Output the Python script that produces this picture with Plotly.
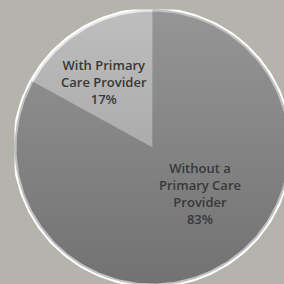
import plotly.graph_objects as go
import numpy as np

labels = ["With Primary<br>Care Provider", "Without a<br>Primary Care<br>Provider"]
values = [17, 83]
slice_colors = ["rgba(210,210,210,0.5)", "rgba(130,130,130,0.5)"]

W = H = 300
cx, cy, r = 152.5, 147.5, 138.0
dom_x = [(cx - r) / W, (cx + r) / W]
dom_y = [1 - (cy + r) / H, 1 - (cy - r) / H]

total = sum(values)
rot = -360.0 * values[0] / total

fig = go.Figure()

# shaded disc beneath the pie (gives the vertical shading and white rim)
t = np.linspace(0, 2 * np.pi, 361)
fig.add_trace(go.Scatter(
    x=np.cos(t), y=np.sin(t), mode="lines", fill="toself",
    line=dict(color="white", width=4),
    fillgradient=dict(type="vertical", start=-1, stop=1,
                      colorscale=[[0, "rgb(98,98,98)"], [1, "rgb(170,170,170)"]]),
    hoverinfo="skip", showlegend=False,
))

fig.add_trace(go.Pie(
    labels=labels, values=values, sort=False, direction="clockwise",
    rotation=rot, marker=dict(colors=slice_colors, line=dict(width=0)),
    textinfo="none", domain=dict(x=dom_x, y=dom_y), showlegend=False, hoverinfo="skip",
))

label_pos = [(104, 82), (200, 194)]
for lab, v, (px, py) in zip(labels, values, label_pos):
    fig.add_annotation(
        x=px / W, y=1 - py / H, xref="paper", yref="paper",
        text=f"{lab}<br>{round(100 * v / total)}%", showarrow=False,
        font=dict(family="Open Sans", size=13, color="#383838", weight=600),
        align="center", xanchor="center", yanchor="middle",
    )

ax = dict(visible=False, range=[-1, 1], fixedrange=True)
fig.update_layout(
    width=W, height=H, margin=dict(l=0, r=0, t=0, b=0),
    paper_bgcolor="#B4B3AC", plot_bgcolor="rgba(0,0,0,0)",
    xaxis=dict(ax, domain=dom_x), yaxis=dict(ax, domain=dom_y),
)
fig.write_html("out.html", config={"displayModeBar": False}, post_script=(
    "document.body.style.margin='0';document.body.style.overflow='hidden';"
    "document.documentElement.style.overflow='hidden';"))
